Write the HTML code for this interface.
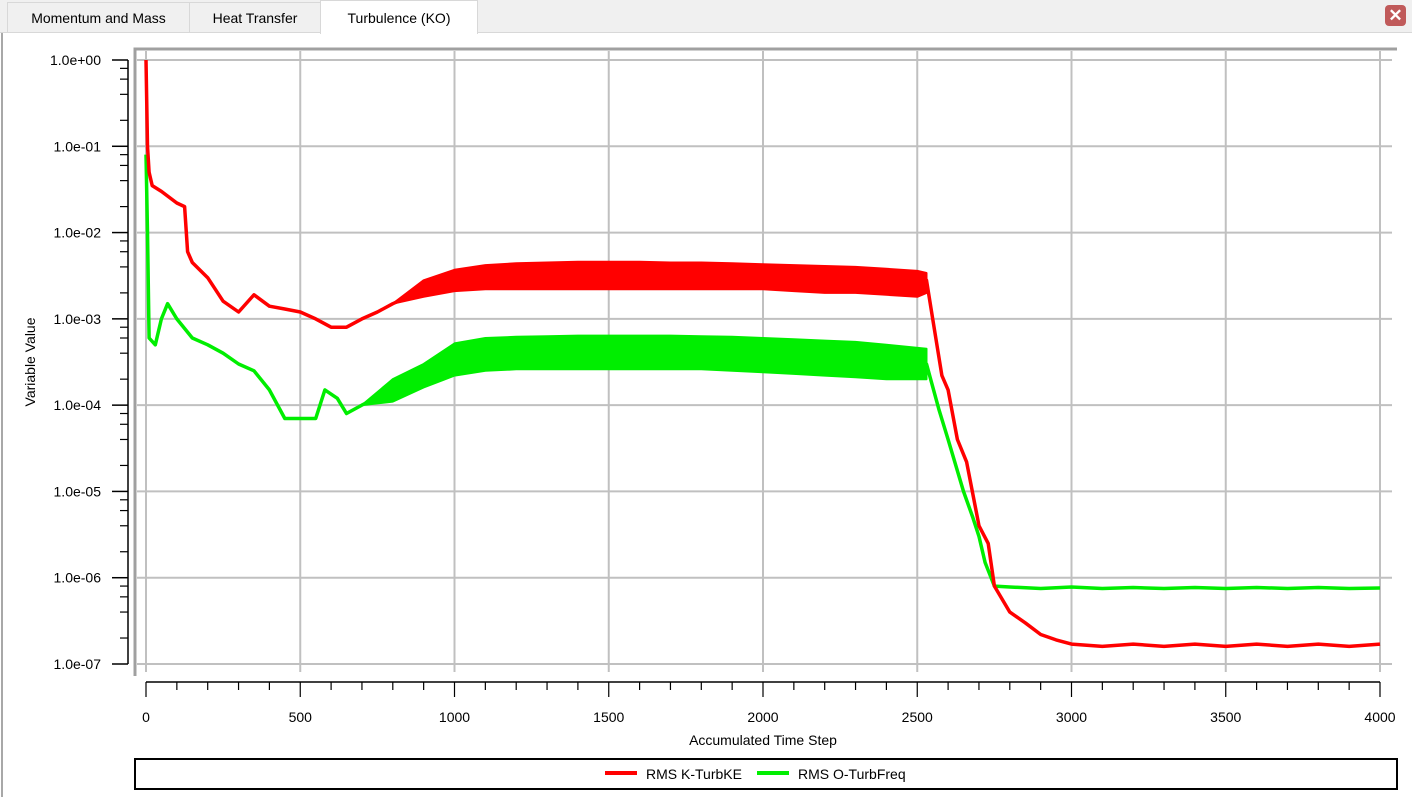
<!DOCTYPE html>
<html><head><meta charset="utf-8"><style>
body{margin:0;width:1412px;height:797px;background:#fff;overflow:hidden;font-family:"Liberation Sans",sans-serif;position:relative}
.tabbar{position:absolute;left:0;top:0;width:1412px;height:32px;background:#f0f0f0;border-bottom:1px solid #d8d8d8}
.tab{position:absolute;top:2px;height:30px;line-height:30px;font-size:14px;color:#000;text-align:center;border:1px solid #d8d8d8;border-bottom:none;background:#f0f0f0;box-sizing:border-box}
.tab.active{background:#fff;top:0;height:34px;line-height:34px}
</style></head><body>
<div style="position:absolute;left:1px;top:0;width:2px;height:797px;background:#a8a8a8"></div>
<div class="tabbar">
<div class="tab" style="left:7px;width:183px">Momentum and Mass</div>
<div class="tab" style="left:189px;width:132px">Heat Transfer</div>
<div class="tab active" style="left:320px;width:158px">Turbulence (KO)</div>
<div style="position:absolute;left:1385px;top:5px;width:21px;height:21px;background:#c05a5a;border-radius:4px;color:#fff;font-size:17px;line-height:21px;text-align:center;font-weight:bold">✕</div>
</div>
<svg id="chart" width="1412" height="797" style="position:absolute;left:0;top:0" xmlns="http://www.w3.org/2000/svg"></svg>
<script>
const kSteps=[0,5,10,20,50,100,125,135,150,200,250,300,350,400,450,500,550,600,650,700,750,800,850,900,950,1000,1100,1200,1300,1400,1500,1600,1700,1800,1900,2000,2100,2200,2300,2400,2500,2530,2550,2580,2600,2630,2660,2700,2730,2750,2800,2850,2900,2950,3000,3100,3200,3300,3400,3500,3600,3700,3800,3900,4000];
const kValues=[1.0,0.1,0.05,0.035,0.03,0.022,0.02,0.006,0.0045,0.003,0.0016,0.0012,0.0019,0.0014,0.0013,0.0012,0.001,0.0008,0.0008,0.001,0.0012,0.0015,0.0018,0.0022,0.0025,0.0028,0.003,0.0031,0.0032,0.0032,0.0033,0.0033,0.0032,0.0032,0.0031,0.0031,0.003,0.003,0.0029,0.0028,0.0027,0.0028,0.001,0.00022,0.00015,0.00004,0.000022,0.000004,0.0000025,0.0000008,0.0000004,0.0000003,0.00000022,0.00000019,0.00000017,0.00000016,0.00000017,0.00000016,0.00000017,0.00000016,0.00000017,0.00000016,0.00000017,0.00000016,0.00000017];
const kBandSteps=[800,900,1000,1100,1200,1300,1400,1500,1600,1700,1800,1900,2000,2100,2200,2300,2400,2500,2530];
const kUpper=[0.0015,0.0028,0.0037,0.0042,0.0044,0.0045,0.0046,0.0046,0.0046,0.0045,0.0045,0.0044,0.0043,0.0042,0.0041,0.004,0.0038,0.0036,0.0034];
const kLower=[0.0015,0.0018,0.0021,0.0022,0.0022,0.0022,0.0022,0.0022,0.0022,0.0022,0.0022,0.0022,0.0022,0.0021,0.002,0.002,0.0019,0.0018,0.002];
const oSteps=[0,5,10,30,50,70,100,150,200,250,300,350,400,450,500,550,580,620,650,700,800,900,1000,1100,1200,1300,1400,1500,1600,1700,1800,1900,2000,2100,2200,2300,2400,2500,2530,2570,2600,2650,2680,2700,2720,2750,2800,2900,3000,3100,3200,3300,3400,3500,3600,3700,3800,3900,4000];
const oValues=[0.08,0.01,0.0006,0.0005,0.001,0.0015,0.001,0.0006,0.0005,0.0004,0.0003,0.00025,0.00015,0.00007,0.00007,0.00007,0.00015,0.00012,0.00008,0.0001,0.00015,0.00022,0.00033,0.00038,0.0004,0.00041,0.00042,0.00042,0.00042,0.00042,0.00041,0.0004,0.0004,0.00038,0.00037,0.00036,0.00035,0.00033,0.0003,0.00009,0.00004,0.00001,0.000005,0.000003,0.0000015,0.0000008,0.00000078,0.00000075,0.00000078,0.00000075,0.00000077,0.00000075,0.00000077,0.00000075,0.00000077,0.00000075,0.00000077,0.00000075,0.00000076];
const oBandSteps=[700,800,900,1000,1100,1200,1300,1400,1500,1600,1700,1800,1900,2000,2100,2200,2300,2400,2530];
const oUpper=[0.0001,0.0002,0.0003,0.00052,0.0006,0.00062,0.00063,0.00064,0.00064,0.00064,0.00064,0.00063,0.00062,0.0006,0.00058,0.00056,0.00054,0.0005,0.00045];
const oLower=[0.0001,0.00011,0.00016,0.00022,0.00025,0.00026,0.00026,0.00026,0.00026,0.00026,0.00026,0.00026,0.00025,0.00024,0.00023,0.00022,0.00021,0.0002,0.0002];
const xTicks=[0,500,1000,1500,2000,2500,3000,3500,4000];
const yExps=[0,-1,-2,-3,-4,-5,-6,-7];
const yLabels=["1.0e+00","1.0e-01","1.0e-02","1.0e-03","1.0e-04","1.0e-05","1.0e-06","1.0e-07"];

const svg=document.getElementById('chart');
const NS='http://www.w3.org/2000/svg';
const X=s=>146+s*(1380-146)/4000;
const Y=v=>60-Math.log10(v)*(664-60)/7;
function mk(tag,attrs,parent){const e=document.createElementNS(NS,tag);for(const k in attrs)e.setAttribute(k,attrs[k]);(parent||svg).appendChild(e);return e;}

xTicks.forEach(t=>{const l=mk('line',{x1:X(t),x2:X(t),y1:51,y2:672,stroke:'#c0c0c0','stroke-width':2});

});
yExps.forEach(e=>{const l=mk('line',{x1:137,x2:1392,y1:Y(Math.pow(10,e)),y2:Y(Math.pow(10,e)),stroke:'#c0c0c0','stroke-width':2});

});
const f1=mk('path',{d:'M135 676 L135 49 L1397 49',fill:'none',stroke:'#a0a0a0','stroke-width':3});



const ya=mk('line',{x1:128,x2:128,y1:60,y2:664,stroke:'#000','stroke-width':1.5});


yExps.forEach((e,i)=>{const y=Y(Math.pow(10,e));
mk('line',{x1:112,x2:128,y1:y,y2:y,stroke:'#000','stroke-width':1.5});
const t=mk('text',{x:101,y:y+5,'text-anchor':'end','font-size':14,fill:'#000'});t.textContent=yLabels[i];


if(e>-7)[0.8,0.6,0.4,0.2].forEach(m=>{const yy=Y(m*Math.pow(10,e));mk('line',{x1:120,x2:128,y1:yy,y2:yy,stroke:'#000','stroke-width':1.2});});});
const yt=mk('text',{x:35,y:362,'text-anchor':'middle','font-size':14,transform:'rotate(-90 35 362)'});yt.textContent='Variable Value';



const xa=mk('line',{x1:146,x2:1380,y1:682,y2:682,stroke:'#000','stroke-width':1.5});


for(let s=0;s<=4000;s+=100){mk('line',{x1:X(s),x2:X(s),y1:682,y2:s%500===0?697:690,stroke:'#000','stroke-width':1.2});}
xTicks.forEach(t=>{const tx=mk('text',{x:X(t),y:722,'text-anchor':'middle','font-size':14});tx.textContent=t;

});
const xt=mk('text',{x:763,y:745,'text-anchor':'middle','font-size':14});xt.textContent='Accumulated Time Step';



function series(xs,vs,color,name){const d=xs.map((s,i)=>(i?'L':'M')+X(s).toFixed(1)+' '+Y(vs[i]).toFixed(1)).join(' ');
const p=mk('path',{d:d,fill:'none',stroke:color,'stroke-width':3.5,'stroke-linejoin':'round'});

}
function band(xs,up,lo,color,name){let d=xs.map((s,i)=>(i?'L':'M')+X(s).toFixed(1)+' '+Y(up[i]).toFixed(1)).join(' ');
for(let i=xs.length-1;i>=0;i--)d+=' L'+X(xs[i]).toFixed(1)+' '+Y(lo[i]).toFixed(1);
const p=mk('path',{d:d+' Z',fill:color,stroke:color,'stroke-width':2,'stroke-linejoin':'round'});

}
band(oBandSteps,oUpper,oLower,'#00ee00','band-rms-o-turbfreq');
series(oSteps,oValues,'#00ee00','series-rms-o-turbfreq');
band(kBandSteps,kUpper,kLower,'#ff0000','band-rms-k-turbke');
series(kSteps,kValues,'#ff0000','series-rms-k-turbke');

const lg=mk('g',{});


mk('rect',{x:135,y:759,width:1262,height:30,fill:'#fff',stroke:'#000','stroke-width':2},lg);
mk('line',{x1:605,x2:637,y1:773,y2:773,stroke:'#ff0000','stroke-width':4},lg);
const l1=mk('text',{x:646,y:779,'font-size':14},lg);l1.textContent='RMS K-TurbKE';


mk('line',{x1:757,x2:789,y1:773,y2:773,stroke:'#00ee00','stroke-width':4},lg);
const l2=mk('text',{x:798,y:779,'font-size':14},lg);l2.textContent='RMS O-TurbFreq';


</script>
</body></html>
